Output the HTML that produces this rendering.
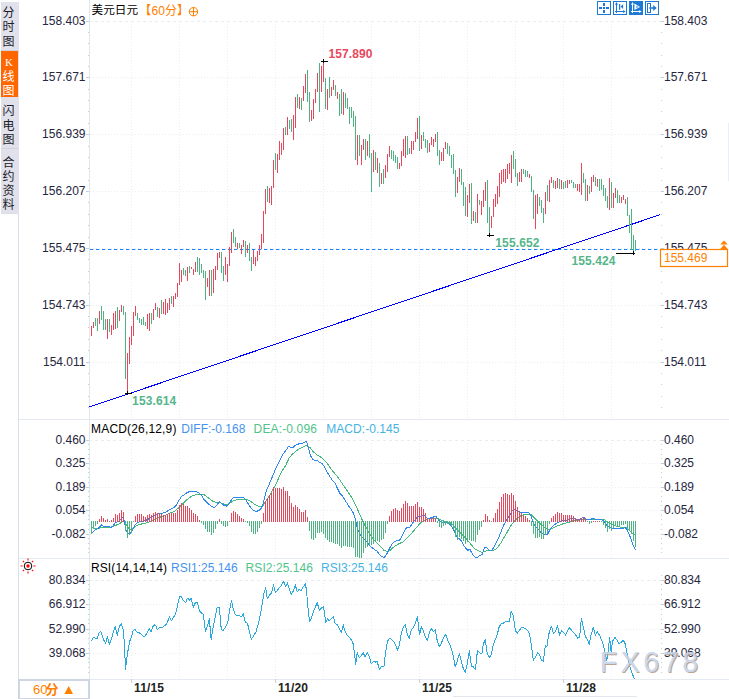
<!DOCTYPE html><html><head><meta charset="utf-8"><title>chart</title><style>
html,body{margin:0;padding:0;background:#fff;}body{width:729px;height:699px;overflow:hidden;}
svg{display:block;font-family:"Liberation Sans",sans-serif;font-size:12px;}
.l{fill:#26263e}.b{font-weight:bold;letter-spacing:0.12px}
.c{font-family:"Liberation Sans","Noto Sans CJK SC",sans-serif}
</style></head><body>
<svg width="729" height="699" viewBox="0 0 729 699">
<rect width="729" height="699" fill="#fff"/>
<g shape-rendering="crispEdges">
<rect x="1" y="2" width="18" height="211" fill="#e0e1eb"/>
<rect x="1" y="51" width="17" height="46" fill="#ff6600"/>
<rect x="1" y="50" width="17" height="1" fill="#cfd3de"/>
<rect x="1" y="148" width="17" height="1" fill="#cfd3de"/>
<rect x="18" y="213" width="1" height="486" fill="#d8dfe8"/><rect x="1" y="213" width="18" height="1" fill="#d8dfe8"/>
<rect x="89" y="0" width="1" height="679" fill="#e0e8ef"/>
<rect x="19" y="419" width="710" height="1" fill="#e4eaf0"/>
<rect x="19" y="558" width="710" height="1" fill="#e4eaf0"/>
<rect x="19" y="679" width="710" height="1" fill="#e4eaf0"/>
<rect x="18" y="679" width="72" height="2" fill="#cfd6e1"/><rect x="18" y="679" width="2" height="20" fill="#cfd6e1"/><rect x="88" y="679" width="2" height="20" fill="#cfd6e1"/><rect x="18" y="698" width="72" height="1" fill="#cfd6e1"/>
<rect x="453" y="696" width="184" height="1" fill="#e3e7ee"/>
<rect x="728" y="123" width="1" height="58" fill="#eceef6"/>
</g>
<g shape-rendering="crispEdges" stroke="#e8edf2" stroke-width="1" fill="none">
<path d="M89 21.5H661" stroke-dasharray="3 3"/>
<path d="M90 77.5H661" stroke-dasharray="1 2"/>
<path d="M90 134.5H661" stroke-dasharray="1 2"/>
<path d="M90 191.5H661" stroke-dasharray="1 2"/>
<path d="M90 248.5H661" stroke-dasharray="1 2"/>
<path d="M90 305.5H661" stroke-dasharray="1 2"/>
<path d="M90 362.5H661" stroke-dasharray="1 2"/>
<path d="M89 440.5H661" stroke-dasharray="3 3"/>
<path d="M90 463.5H661" stroke-dasharray="1 2"/>
<path d="M90 487.5H661" stroke-dasharray="1 2"/>
<path d="M90 510.5H661" stroke-dasharray="1 2"/>
<path d="M90 534.5H661" stroke-dasharray="1 2"/>
<path d="M89 580.5H661" stroke-dasharray="3 3"/>
<path d="M90 604.5H661" stroke-dasharray="1 2"/>
<path d="M90 629.5H661" stroke-dasharray="1 2"/>
<path d="M90 653.5H661" stroke-dasharray="1 2"/>
<path d="M131.5 21V419M131.5 440V558M131.5 580V679" stroke-dasharray="1 2"/>
<path d="M179.5 21V419M179.5 440V558M179.5 580V679" stroke-dasharray="1 2"/>
<path d="M227.5 21V419M227.5 440V558M227.5 580V679" stroke-dasharray="1 2"/>
<path d="M275.5 21V419M275.5 440V558M275.5 580V679" stroke-dasharray="1 2"/>
<path d="M323.5 21V419M323.5 440V558M323.5 580V679" stroke-dasharray="1 2"/>
<path d="M371.5 21V419M371.5 440V558M371.5 580V679" stroke-dasharray="1 2"/>
<path d="M419.5 21V419M419.5 440V558M419.5 580V679" stroke-dasharray="1 2"/>
<path d="M467.5 21V419M467.5 440V558M467.5 580V679" stroke-dasharray="1 2"/>
<path d="M515.5 21V419M515.5 440V558M515.5 580V679" stroke-dasharray="1 2"/>
<path d="M563.5 21V419M563.5 440V558M563.5 580V679" stroke-dasharray="1 2"/>
<path d="M611.5 21V419M611.5 440V558M611.5 580V679" stroke-dasharray="1 2"/>
</g>
<g shape-rendering="crispEdges" fill="#c3ced9">
<rect x="86" y="21" width="3" height="1"/>
<rect x="661" y="21" width="3" height="1"/>
<rect x="88" y="32" width="1" height="1"/>
<rect x="661" y="32" width="1" height="1"/>
<rect x="88" y="43" width="1" height="1"/>
<rect x="661" y="43" width="1" height="1"/>
<rect x="88" y="55" width="1" height="1"/>
<rect x="661" y="55" width="1" height="1"/>
<rect x="88" y="66" width="1" height="1"/>
<rect x="661" y="66" width="1" height="1"/>
<rect x="86" y="77" width="3" height="1"/>
<rect x="661" y="77" width="3" height="1"/>
<rect x="88" y="89" width="1" height="1"/>
<rect x="661" y="89" width="1" height="1"/>
<rect x="88" y="100" width="1" height="1"/>
<rect x="661" y="100" width="1" height="1"/>
<rect x="88" y="111" width="1" height="1"/>
<rect x="661" y="111" width="1" height="1"/>
<rect x="88" y="123" width="1" height="1"/>
<rect x="661" y="123" width="1" height="1"/>
<rect x="86" y="134" width="3" height="1"/>
<rect x="661" y="134" width="3" height="1"/>
<rect x="88" y="146" width="1" height="1"/>
<rect x="661" y="146" width="1" height="1"/>
<rect x="88" y="157" width="1" height="1"/>
<rect x="661" y="157" width="1" height="1"/>
<rect x="88" y="168" width="1" height="1"/>
<rect x="661" y="168" width="1" height="1"/>
<rect x="88" y="180" width="1" height="1"/>
<rect x="661" y="180" width="1" height="1"/>
<rect x="86" y="191" width="3" height="1"/>
<rect x="661" y="191" width="3" height="1"/>
<rect x="88" y="202" width="1" height="1"/>
<rect x="661" y="202" width="1" height="1"/>
<rect x="88" y="214" width="1" height="1"/>
<rect x="661" y="214" width="1" height="1"/>
<rect x="88" y="225" width="1" height="1"/>
<rect x="661" y="225" width="1" height="1"/>
<rect x="88" y="237" width="1" height="1"/>
<rect x="661" y="237" width="1" height="1"/>
<rect x="86" y="248" width="3" height="1"/>
<rect x="661" y="248" width="3" height="1"/>
<rect x="88" y="259" width="1" height="1"/>
<rect x="661" y="259" width="1" height="1"/>
<rect x="88" y="271" width="1" height="1"/>
<rect x="661" y="271" width="1" height="1"/>
<rect x="88" y="282" width="1" height="1"/>
<rect x="661" y="282" width="1" height="1"/>
<rect x="88" y="293" width="1" height="1"/>
<rect x="661" y="293" width="1" height="1"/>
<rect x="86" y="305" width="3" height="1"/>
<rect x="661" y="305" width="3" height="1"/>
<rect x="88" y="316" width="1" height="1"/>
<rect x="661" y="316" width="1" height="1"/>
<rect x="88" y="327" width="1" height="1"/>
<rect x="661" y="327" width="1" height="1"/>
<rect x="88" y="339" width="1" height="1"/>
<rect x="661" y="339" width="1" height="1"/>
<rect x="88" y="350" width="1" height="1"/>
<rect x="661" y="350" width="1" height="1"/>
<rect x="86" y="362" width="3" height="1"/>
<rect x="661" y="362" width="3" height="1"/>
<rect x="88" y="373" width="1" height="1"/>
<rect x="661" y="373" width="1" height="1"/>
<rect x="88" y="384" width="1" height="1"/>
<rect x="661" y="384" width="1" height="1"/>
<rect x="88" y="396" width="1" height="1"/>
<rect x="661" y="396" width="1" height="1"/>
<rect x="88" y="407" width="1" height="1"/>
<rect x="661" y="407" width="1" height="1"/>
<rect x="86" y="440" width="3" height="1"/>
<rect x="661" y="440" width="3" height="1"/>
<rect x="88" y="444" width="1" height="1"/>
<rect x="661" y="444" width="1" height="1"/>
<rect x="88" y="449" width="1" height="1"/>
<rect x="661" y="449" width="1" height="1"/>
<rect x="88" y="454" width="1" height="1"/>
<rect x="661" y="454" width="1" height="1"/>
<rect x="88" y="458" width="1" height="1"/>
<rect x="661" y="458" width="1" height="1"/>
<rect x="86" y="463" width="3" height="1"/>
<rect x="661" y="463" width="3" height="1"/>
<rect x="88" y="468" width="1" height="1"/>
<rect x="661" y="468" width="1" height="1"/>
<rect x="88" y="472" width="1" height="1"/>
<rect x="661" y="472" width="1" height="1"/>
<rect x="88" y="477" width="1" height="1"/>
<rect x="661" y="477" width="1" height="1"/>
<rect x="88" y="482" width="1" height="1"/>
<rect x="661" y="482" width="1" height="1"/>
<rect x="86" y="487" width="3" height="1"/>
<rect x="661" y="487" width="3" height="1"/>
<rect x="88" y="491" width="1" height="1"/>
<rect x="661" y="491" width="1" height="1"/>
<rect x="88" y="496" width="1" height="1"/>
<rect x="661" y="496" width="1" height="1"/>
<rect x="88" y="501" width="1" height="1"/>
<rect x="661" y="501" width="1" height="1"/>
<rect x="88" y="505" width="1" height="1"/>
<rect x="661" y="505" width="1" height="1"/>
<rect x="86" y="510" width="3" height="1"/>
<rect x="661" y="510" width="3" height="1"/>
<rect x="88" y="515" width="1" height="1"/>
<rect x="661" y="515" width="1" height="1"/>
<rect x="88" y="519" width="1" height="1"/>
<rect x="661" y="519" width="1" height="1"/>
<rect x="88" y="524" width="1" height="1"/>
<rect x="661" y="524" width="1" height="1"/>
<rect x="88" y="529" width="1" height="1"/>
<rect x="661" y="529" width="1" height="1"/>
<rect x="86" y="534" width="3" height="1"/>
<rect x="661" y="534" width="3" height="1"/>
<rect x="88" y="538" width="1" height="1"/>
<rect x="661" y="538" width="1" height="1"/>
<rect x="88" y="543" width="1" height="1"/>
<rect x="661" y="543" width="1" height="1"/>
<rect x="88" y="548" width="1" height="1"/>
<rect x="661" y="548" width="1" height="1"/>
<rect x="88" y="552" width="1" height="1"/>
<rect x="661" y="552" width="1" height="1"/>
<rect x="88" y="575" width="1" height="1"/>
<rect x="661" y="575" width="1" height="1"/>
<rect x="86" y="580" width="3" height="1"/>
<rect x="661" y="580" width="3" height="1"/>
<rect x="88" y="584" width="1" height="1"/>
<rect x="661" y="584" width="1" height="1"/>
<rect x="88" y="589" width="1" height="1"/>
<rect x="661" y="589" width="1" height="1"/>
<rect x="88" y="594" width="1" height="1"/>
<rect x="661" y="594" width="1" height="1"/>
<rect x="88" y="599" width="1" height="1"/>
<rect x="661" y="599" width="1" height="1"/>
<rect x="86" y="604" width="3" height="1"/>
<rect x="661" y="604" width="3" height="1"/>
<rect x="88" y="609" width="1" height="1"/>
<rect x="661" y="609" width="1" height="1"/>
<rect x="88" y="614" width="1" height="1"/>
<rect x="661" y="614" width="1" height="1"/>
<rect x="88" y="619" width="1" height="1"/>
<rect x="661" y="619" width="1" height="1"/>
<rect x="88" y="623" width="1" height="1"/>
<rect x="661" y="623" width="1" height="1"/>
<rect x="86" y="629" width="3" height="1"/>
<rect x="661" y="629" width="3" height="1"/>
<rect x="88" y="633" width="1" height="1"/>
<rect x="661" y="633" width="1" height="1"/>
<rect x="88" y="638" width="1" height="1"/>
<rect x="661" y="638" width="1" height="1"/>
<rect x="88" y="643" width="1" height="1"/>
<rect x="661" y="643" width="1" height="1"/>
<rect x="88" y="648" width="1" height="1"/>
<rect x="661" y="648" width="1" height="1"/>
<rect x="86" y="653" width="3" height="1"/>
<rect x="661" y="653" width="3" height="1"/>
<rect x="88" y="658" width="1" height="1"/>
<rect x="661" y="658" width="1" height="1"/>
<rect x="88" y="662" width="1" height="1"/>
<rect x="661" y="662" width="1" height="1"/>
<rect x="88" y="667" width="1" height="1"/>
<rect x="661" y="667" width="1" height="1"/>
<rect x="88" y="672" width="1" height="1"/>
<rect x="661" y="672" width="1" height="1"/>
<rect x="131" y="679" width="1" height="4"/>
<rect x="275" y="679" width="1" height="4"/>
<rect x="419" y="679" width="1" height="4"/>
<rect x="563" y="679" width="1" height="4"/>
</g>
<g class="l">
<text x="85.5" y="25" text-anchor="end">158.403</text>
<text x="664" y="25">158.403</text>
<text x="85.5" y="81" text-anchor="end">157.671</text>
<text x="664" y="81">157.671</text>
<text x="85.5" y="138" text-anchor="end">156.939</text>
<text x="664" y="138">156.939</text>
<text x="85.5" y="195" text-anchor="end">156.207</text>
<text x="664" y="195">156.207</text>
<text x="85.5" y="252" text-anchor="end">155.475</text>
<text x="664" y="252">155.475</text>
<text x="85.5" y="309" text-anchor="end">154.743</text>
<text x="664" y="309">154.743</text>
<text x="85.5" y="366" text-anchor="end">154.011</text>
<text x="664" y="366">154.011</text>
<text x="85.5" y="444" text-anchor="end">0.460</text>
<text x="664" y="444">0.460</text>
<text x="85.5" y="467" text-anchor="end">0.325</text>
<text x="664" y="467">0.325</text>
<text x="85.5" y="491" text-anchor="end">0.189</text>
<text x="664" y="491">0.189</text>
<text x="85.5" y="514" text-anchor="end">0.054</text>
<text x="664" y="514">0.054</text>
<text x="85.5" y="538" text-anchor="end">-0.082</text>
<text x="664" y="538">-0.082</text>
<text x="85.5" y="584" text-anchor="end">80.834</text>
<text x="664" y="584">80.834</text>
<text x="85.5" y="608" text-anchor="end">66.912</text>
<text x="664" y="608">66.912</text>
<text x="85.5" y="633" text-anchor="end">52.990</text>
<text x="664" y="633">52.990</text>
<text x="85.5" y="657" text-anchor="end">39.068</text>
<text x="664" y="657">39.068</text>
</g>
<path d="M89.5 406.9L660 214.75" stroke="#0000ff" stroke-width="1" fill="none" shape-rendering="crispEdges"/>
<path d="M90 249.5H658" stroke="#1283ff" stroke-width="1" stroke-dasharray="3.3 2.7" fill="none"/>
<g shape-rendering="crispEdges">
<path d="M91.5 326V336M93.5 322V328M99.5 311V324M107.5 319V339M111.5 325V335M113.5 313V330M115.5 311V329M119.5 310V321M121.5 305V312M127.5 353V393M129.5 337V364M131.5 326V345M133.5 312V336M135.5 306V316M147.5 314V329M149.5 313V331M153.5 309V320M155.5 303V310M159.5 308V318M163.5 302V314M165.5 299V315M167.5 303V313M169.5 298V310M173.5 296V307M175.5 293V299M177.5 283V297M179.5 263V285M181.5 270V282M187.5 267V281M191.5 267V269M193.5 269V275M195.5 262V272M207.5 278V287M209.5 270V296M213.5 269V293M215.5 266V280M217.5 253V270M219.5 252V258M225.5 257V275M227.5 264V282M229.5 247V266M231.5 232V253M237.5 243V249M241.5 245V254M243.5 240V247M247.5 245V253M253.5 250V264M255.5 257V266M257.5 251V261M259.5 245V255M261.5 234V249M263.5 211V243M265.5 189V214M269.5 188V203M271.5 186V205M273.5 160V188M277.5 154V173M279.5 141V160M281.5 143V155M283.5 128V150M287.5 117V135M293.5 115V140M295.5 97V128M299.5 97V109M303.5 86V101M305.5 74V93M311.5 110V121M313.5 99V119M315.5 89V103M317.5 73V92M321.5 66V92M323.5 62V82M327.5 89V110M331.5 87V96M333.5 80V90M337.5 92V99M343.5 92V115M357.5 135V165M361.5 145V165M363.5 139V150M367.5 141V156M373.5 150V172M377.5 158V173M381.5 173V184M385.5 165V178M387.5 154V172M389.5 146V157M399.5 163V169M401.5 151V166M403.5 139V156M405.5 136V158M411.5 141V154M413.5 141V150M415.5 132V142M417.5 118V139M421.5 135V149M429.5 143V152M431.5 137V145M433.5 139V147M435.5 134V142M441.5 152V161M443.5 148V161M445.5 142V149M457.5 177V193M459.5 168V182M467.5 195V217M469.5 184V203M473.5 211V221M477.5 194V223M481.5 201V215M483.5 190V207M485.5 182V201M491.5 216V228M493.5 199V217M495.5 194V207M497.5 186V204M499.5 173V197M501.5 170V184M503.5 169V182M505.5 169V183M507.5 164V179M509.5 163V174M511.5 155V183M519.5 172V182M521.5 169V182M529.5 174V178M535.5 195V229M537.5 194V214M545.5 192V214M549.5 180V202M551.5 177V183M555.5 181V189M557.5 178V188M561.5 180V189M567.5 180V188M569.5 180V184M577.5 184V191M579.5 184V192M581.5 163V195M587.5 185V201M591.5 177V192M593.5 175V182M597.5 179V187M609.5 178V210M613.5 193V208M615.5 188V198M621.5 197V203M623.5 195V200M625.5 199V204" stroke="#e8475b" stroke-width="1" fill="none"/>
<path d="M95.5 318V326M97.5 318V331M101.5 306V320M103.5 311V330M105.5 319V330M109.5 319V332M117.5 307V328M123.5 306V315M125.5 312V379M137.5 313V320M139.5 318V323M141.5 319V325M143.5 317V325M145.5 322V326M151.5 313V324M157.5 307V317M161.5 300V314M171.5 296V304M183.5 268V275M185.5 270V276M189.5 266V273M197.5 257V272M199.5 258V275M201.5 264V273M203.5 270V278M205.5 271V300M211.5 270V296M221.5 252V273M223.5 266V281M233.5 229V243M235.5 237V247M239.5 243V248M245.5 241V257M249.5 243V261M251.5 257V271M267.5 186V202M275.5 153V170M285.5 127V135M289.5 120V129M291.5 119V132M297.5 94V108M301.5 98V110M307.5 70V102M309.5 92V122M319.5 63V112M325.5 78V109M329.5 77V98M335.5 85V96M339.5 94V116M341.5 89V114M345.5 93V108M347.5 98V109M349.5 107V124M351.5 107V118M353.5 111V127M355.5 116V160M359.5 135V156M365.5 139V160M369.5 134V158M371.5 153V192M375.5 152V170M379.5 163V187M383.5 169V184M391.5 150V159M393.5 151V161M395.5 155V163M397.5 157V169M407.5 136V155M409.5 148V154M419.5 116V151M423.5 132V141M425.5 139V148M427.5 140V153M437.5 132V156M439.5 150V165M447.5 143V154M449.5 146V156M451.5 155V168M453.5 154V174M455.5 170V197M461.5 169V185M463.5 182V206M465.5 187V216M471.5 183V224M475.5 212V223M479.5 200V205M487.5 180V223M489.5 207V235M513.5 151V169M515.5 159V177M517.5 173V186M523.5 169V174M525.5 170V177M527.5 171V177M531.5 176V192M533.5 190V219M539.5 197V206M541.5 200V213M543.5 208V223M547.5 185V201M553.5 180V188M559.5 179V189M563.5 182V189M565.5 181V188M571.5 180V183M573.5 182V188M575.5 184V188M583.5 173V183M585.5 179V201M589.5 186V194M595.5 177V186M599.5 179V191M601.5 179V190M603.5 185V196M605.5 188V201M607.5 196V208M611.5 182V208M617.5 190V203M619.5 195V203M627.5 197V216M629.5 215V233M631.5 209V250M633.5 235V253M635.5 240V251" stroke="#4fb283" stroke-width="1" fill="none"/>
</g>
<g shape-rendering="crispEdges" fill="#000">
<rect x="321" y="61" width="7" height="1"/><rect x="323" y="59" width="1" height="4"/>
<rect x="125" y="393" width="7" height="1"/><rect x="127" y="391" width="1" height="4"/>
<rect x="487" y="235" width="7" height="1"/><rect x="489" y="233" width="1" height="4"/>
<rect x="616" y="253" width="19" height="1"/><rect x="633" y="251" width="1" height="4"/>
</g>
<g class="b">
<text x="328.4" y="57.5" fill="#e9485c">157.890</text>
<text x="132.1" y="404.7" fill="#55b58a">153.614</text>
<text x="495.3" y="246.7" fill="#55b58a">155.652</text>
<text x="571.4" y="264.5" fill="#55b58a">155.424</text>
</g>
<rect x="660.5" y="249.5" width="67" height="17" fill="#fff" stroke="#ff7f00" stroke-width="1.2"/>
<text x="664" y="261.8" fill="#ff7f00">155.469</text>
<path d="M724 240.6L727.8 244.6H720.2ZM724 244.8L728.2 249.4H719.8Z" fill="#ff7f00"/>
<path d="M91.4 527.3L93.5 528.3L97.6 528.3L99.7 528.0L101.7 527.1L105.8 527.3L111.3 527.3L114.1 526.0L117.5 524.6L120.2 523.2L122.3 521.2L123.9 520.9L125.7 523.2L127.8 527.3L129.4 529.4L131.9 529.7L134.0 527.3L136.0 526.0L139.4 524.6L142.9 523.6L147.0 522.8L151.1 521.2L153.8 520.1L156.6 518.7L159.3 517.3L162.8 516.4L166.2 515.0L170.3 512.9L173.7 511.8L177.2 509.1L179.2 507.4L181.6 504.7L184.0 502.6L187.5 499.2L188.6 498.5L191.2 496.3L194.6 495.1L198.9 494.6L203.2 494.2L205.7 495.9L209.2 498.5L212.6 501.1L216.0 502.3L219.5 502.3L222.9 503.7L226.3 504.5L228.9 503.7L231.5 502.0L234.9 500.2L238.4 499.4L243.5 499.4L246.9 499.4L250.4 501.1L253.8 503.7L257.2 505.9L260.7 506.8L263.3 505.4L265.8 501.1L268.4 497.7L271.8 491.7L275.3 485.6L278.7 477.9L282.1 471.1L285.9 465.0L289.4 457.4L292.9 453.8L296.5 450.7L300.1 448.4L303.7 446.6L307.2 445.4L309.9 447.5L313.5 452.0L318.0 455.6L322.4 458.2L326.0 461.8L329.6 466.8L333.2 471.7L336.8 475.8L340.3 480.6L343.9 486.0L347.5 491.3L351.1 496.7L354.6 503.0L358.2 511.0L361.8 519.0L365.4 526.2L368.9 532.5L372.5 537.8L376.1 542.3L379.7 545.9L384.0 550.3L387.5 551.8L390.2 550.2L393.0 547.7L395.7 545.6L399.1 543.6L402.6 542.2L405.3 539.5L408.1 536.7L410.8 534.0L413.6 531.0L416.3 527.8L419.0 524.7L421.8 521.9L423.8 520.5L425.9 519.6L428.6 518.9L431.4 518.6L434.1 518.2L436.9 518.2L439.6 519.6L442.4 520.5L445.1 521.4L447.8 521.9L450.6 523.0L453.3 525.5L456.1 528.5L458.8 531.5L461.6 534.0L464.3 536.7L467.0 539.5L469.8 542.9L472.5 546.3L475.3 549.1L478.0 550.4L482.0 552.5L485.5 551.1L488.9 550.4L492.3 550.4L495.1 549.8L497.8 547.0L500.6 543.6L503.3 538.8L506.1 534.0L508.8 529.2L511.6 524.7L514.3 521.4L517.0 518.6L519.8 516.4L522.5 515.1L525.3 514.5L528.0 514.4L530.8 514.5L532.8 516.2L535.6 518.9L538.3 521.6L541.0 524.4L543.8 526.9L546.5 528.8L548.6 529.9L550.6 529.2L553.4 527.8L556.1 526.4L558.9 525.5L562.3 524.1L565.7 523.0L569.2 522.1L572.6 521.0L576.0 520.3L580.0 520.0L583.7 519.2L589.2 519.2L594.7 519.2L600.2 519.2L604.3 519.6L606.4 521.6L609.1 523.0L611.8 524.7L615.3 525.8L619.4 526.9L623.5 527.4L626.2 527.1L628.3 529.2L631.0 531.9L633.8 534.3L635.8 535.1" stroke="#45b97f" stroke-width="1" fill="none" stroke-linejoin="round" shape-rendering="crispEdges"/>
<path d="M91.4 533.2L93.5 531.4L95.5 529.8L97.6 528.7L99.7 526.6L101.4 525.0L103.5 526.4L105.6 526.6L108.6 526.6L111.3 527.3L113.5 525.3L115.4 522.8L117.5 521.8L119.6 520.5L121.6 518.1L123.0 517.3L123.9 519.8L125.0 525.3L126.1 530.8L127.8 532.8L129.4 533.8L131.5 532.1L133.3 528.0L135.5 524.6L137.5 522.8L139.4 521.8L142.9 521.4L145.6 520.5L148.4 519.1L151.1 517.3L153.8 515.7L156.6 514.3L159.3 513.6L162.8 513.2L165.5 512.2L168.9 510.2L171.7 508.8L174.4 507.4L177.2 504.0L179.2 499.9L181.6 496.5L184.0 494.8L187.5 492.3L188.6 492.0L191.2 491.1L194.6 491.3L198.0 492.5L201.5 495.1L204.0 499.4L206.6 502.3L209.2 504.5L211.8 506.8L214.3 507.4L216.6 505.4L219.5 501.6L221.5 503.3L223.8 505.4L226.3 506.2L228.6 504.5L230.6 501.1L232.7 498.2L234.9 497.3L237.5 497.1L243.5 497.7L246.1 500.2L248.7 504.5L251.2 508.0L253.8 510.5L256.4 511.4L259.0 510.5L261.5 508.0L263.3 502.8L265.0 495.9L266.7 489.9L270.1 482.2L273.6 473.6L277.0 465.9L280.4 459.0L283.0 453.9L285.9 450.5L288.5 446.6L290.8 447.2L292.9 447.9L294.7 445.4L297.4 444.3L300.1 443.6L302.8 443.0L304.6 442.2L305.8 441.3L307.2 443.6L308.7 449.3L310.5 455.6L312.6 459.1L314.8 460.9L316.2 460.0L318.9 461.8L321.9 463.3L324.2 466.3L326.9 471.7L329.6 476.1L332.3 480.1L335.0 483.3L337.6 488.6L340.3 494.0L343.0 496.7L345.7 501.2L348.4 505.6L351.1 509.2L353.7 513.7L355.5 519.9L357.3 528.0L360.0 534.2L363.6 538.7L367.2 542.3L369.8 545.9L373.4 548.6L377.0 551.2L380.6 555.7L384.0 557.5L386.1 555.2L387.5 552.5L389.5 548.4L391.6 544.7L393.7 542.2L395.7 541.1L397.8 540.6L399.6 540.2L401.2 537.4L403.3 533.3L405.3 529.2L406.7 527.8L408.7 527.4L410.1 527.1L412.2 523.7L414.2 521.0L416.3 518.2L418.4 516.4L420.4 516.2L422.5 515.5L424.5 515.5L425.9 517.5L428.0 518.9L430.0 518.2L432.1 517.5L434.1 516.8L435.5 516.2L436.9 517.5L438.2 519.6L440.3 521.6L443.0 522.7L445.8 522.3L447.8 523.0L449.9 524.4L452.0 526.9L454.0 530.6L456.1 535.4L458.1 538.1L460.2 539.5L462.2 542.2L464.3 546.3L466.4 549.1L468.1 550.4L469.8 549.1L471.2 551.8L473.2 555.2L476.0 557.7L478.0 557.3L480.1 555.2L482.0 554.6L484.1 548.4L485.8 547.0L487.5 548.4L489.3 550.2L491.7 550.2L493.7 547.7L495.8 543.6L497.8 539.5L499.9 534.7L501.9 529.2L504.0 524.4L506.1 521.0L508.1 517.5L510.2 514.1L512.2 510.9L514.3 509.3L516.4 510.4L518.4 511.4L521.2 512.3L524.6 512.3L528.0 512.3L529.7 513.4L531.4 516.8L532.8 521.6L534.9 525.5L536.9 527.8L539.0 529.9L541.0 532.6L543.1 534.3L545.2 534.7L547.2 534.7L548.6 532.6L550.0 529.2L552.0 526.9L554.1 525.1L556.8 523.0L559.6 521.6L562.3 521.0L565.0 520.7L567.8 519.6L570.5 518.6L573.3 518.6L576.0 519.2L580.0 519.6L581.0 518.6L583.0 517.5L585.1 518.2L587.1 519.6L590.6 519.2L593.3 518.6L596.1 519.2L599.5 519.6L602.2 520.0L604.3 521.6L606.4 525.1L608.4 526.9L610.5 527.8L613.9 528.2L618.0 528.2L622.1 528.2L625.6 527.8L627.6 531.2L630.4 537.4L633.1 545.0L635.6 549.8" stroke="#2e86f0" stroke-width="1" fill="none" stroke-linejoin="round" shape-rendering="crispEdges"/>
<g shape-rendering="crispEdges">
<path d="M99.5 519V522M101.5 516V522M103.5 518V522M105.5 520V522M107.5 519V522M111.5 520V522M113.5 518V522M115.5 514V522M117.5 515V522M119.5 513V522M121.5 510V522M123.5 512V522M135.5 516V522M137.5 514V522M139.5 514V522M141.5 514V522M143.5 516V522M145.5 517V522M147.5 515V522M149.5 514V522M151.5 515V522M153.5 513V522M155.5 512V522M157.5 513V522M159.5 513V522M161.5 514V522M163.5 515V522M165.5 515V522M167.5 514V522M169.5 513V522M171.5 513V522M173.5 513V522M175.5 513V522M177.5 510V522M179.5 505V522M181.5 503V522M183.5 504V522M185.5 506V522M187.5 506V522M189.5 508V522M191.5 510V522M193.5 513V522M195.5 514V522M197.5 516V522M199.5 520V522M219.5 519V522M231.5 513V522M233.5 511V522M235.5 512V522M237.5 514V522M239.5 516V522M241.5 518V522M243.5 519V522M263.5 513V522M265.5 501V522M267.5 498V522M269.5 495V522M271.5 493V522M273.5 487V522M275.5 488V522M277.5 488V522M279.5 488V522M281.5 489V522M283.5 487V522M285.5 491V522M287.5 491V522M289.5 496V522M291.5 503V522M293.5 507V522M295.5 505V522M297.5 507V522M299.5 509V522M301.5 512V522M303.5 512V522M305.5 510V522M307.5 517V522M389.5 516V522M391.5 511V522M393.5 509V522M395.5 508V522M397.5 510V522M399.5 511V522M401.5 508V522M403.5 504V522M405.5 501V522M407.5 503V522M409.5 506V522M411.5 506V522M413.5 506V522M415.5 504V522M417.5 502V522M419.5 507V522M421.5 507V522M423.5 509V522M425.5 513V522M427.5 518V522M429.5 519V522M431.5 518V522M433.5 518V522M435.5 518V522M483.5 520V522M485.5 514V522M487.5 516V522M489.5 520V522M493.5 518V522M495.5 513V522M497.5 509V522M499.5 502V522M501.5 497V522M503.5 494V522M505.5 493V522M507.5 494V522M509.5 495V522M511.5 493V522M513.5 495V522M515.5 501V522M517.5 507V522M519.5 511V522M521.5 513V522M523.5 515V522M525.5 516V522M527.5 518V522M529.5 520V522M551.5 518V522M553.5 516V522M555.5 514V522M557.5 512V522M559.5 513V522M561.5 513V522M563.5 515V522M565.5 515V522M567.5 515V522M569.5 515V522M571.5 515V522M573.5 516V522M575.5 518V522M577.5 519V522M579.5 519V522M581.5 518V522M583.5 517V522M585.5 518V522M593.5 521V522M595.5 521V522M597.5 521V522M599.5 521V522" stroke="#e8475b" stroke-width="1" fill="none"/>
<path d="M91.5 521V534M93.5 521V529M95.5 521V526M97.5 521V524M109.5 521V522M125.5 521V531M127.5 521V538M129.5 521V535M131.5 521V533M133.5 521V522M201.5 521V523M203.5 521V525M205.5 521V529M207.5 521V532M209.5 521V532M211.5 521V535M213.5 521V533M215.5 521V529M217.5 521V524M221.5 521V524M223.5 521V526M225.5 521V527M227.5 521V526M229.5 521V522M245.5 521V522M247.5 521V523M249.5 521V526M251.5 521V532M253.5 521V534M255.5 521V534M257.5 521V532M259.5 521V528M261.5 521V524M309.5 521V531M311.5 521V539M313.5 521V540M315.5 521V538M317.5 521V533M319.5 521V533M321.5 521V532M323.5 521V534M325.5 521V538M327.5 521V540M329.5 521V542M331.5 521V542M333.5 521V543M335.5 521V544M337.5 521V544M339.5 521V546M341.5 521V548M343.5 521V546M345.5 521V546M347.5 521V547M349.5 521V547M351.5 521V547M353.5 521V548M355.5 521V557M357.5 521V557M359.5 521V558M361.5 521V558M363.5 521V553M365.5 521V548M367.5 521V547M369.5 521V545M371.5 521V545M373.5 521V544M375.5 521V541M377.5 521V541M379.5 521V542M381.5 521V540M383.5 521V539M385.5 521V533M387.5 521V524M437.5 521V523M439.5 521V527M441.5 521V528M443.5 521V526M445.5 521V525M447.5 521V524M449.5 521V524M451.5 521V526M453.5 521V529M455.5 521V537M457.5 521V540M459.5 521V537M461.5 521V539M463.5 521V541M465.5 521V544M467.5 521V542M469.5 521V540M471.5 521V541M473.5 521V541M475.5 521V542M477.5 521V535M479.5 521V530M481.5 521V527M491.5 521V522M531.5 521V526M533.5 521V534M535.5 521V538M537.5 521V538M539.5 521V537M541.5 521V539M543.5 521V539M545.5 521V535M547.5 521V533M549.5 521V524M587.5 521V522M589.5 521V524M591.5 521V523M601.5 521V522M603.5 521V525M605.5 521V528M607.5 521V532M609.5 521V529M611.5 521V531M613.5 521V528M615.5 521V526M617.5 521V526M619.5 521V526M621.5 521V525M623.5 521V525M625.5 521V524M627.5 521V530M629.5 521V531M631.5 521V534M633.5 521V541M635.5 521V547" stroke="#4fb283" stroke-width="1" fill="none"/>
</g>
<path d="M91.3 641.1L93.3 637.3L95.5 638.1L97.3 638.1L99.3 632.1L100.8 631.8L102.3 635.8L103.8 640.3L105.7 643.3L107.5 636.6L109.5 644.4L111.3 639.3L113.2 632.1L115.3 626.8L117.3 635.1L119.2 626.8L121.3 623.4L122.9 628.3L124.1 639.6L125.6 669.6L126.5 659.9L127.8 651.6L129.8 641.1L131.6 636.3L133.1 630.6L134.9 629.1L136.8 631.8L139.1 632.8L141.3 634.3L143.6 636.3L145.4 635.8L147.3 632.1L149.3 628.8L151.1 632.1L152.9 626.8L154.8 624.3L156.3 626.8L157.4 629.8L159.8 627.3L161.6 627.9L163.9 626.1L165.8 624.9L167.6 621.6L169.6 616.8L171.4 620.8L173.3 617.8L175.1 614.8L176.9 608.8L178.4 601.3L179.6 596.5L181.4 596.8L183.4 600.5L185.6 602.8L187.1 599.0L188.0 598.3L189.8 600.2L191.3 598.3L193.2 607.3L195.3 602.8L197.3 602.0L199.5 611.1L201.8 613.3L203.3 614.4L205.5 631.3L207.5 626.1L209.3 618.6L211.2 639.6L213.3 626.1L215.3 617.1L217.2 607.3L219.3 607.3L221.3 629.8L223.3 630.3L225.4 627.3L227.8 622.3L229.6 610.3L231.4 600.5L233.3 608.8L235.3 614.8L237.1 615.3L239.3 615.6L241.6 616.8L243.4 613.8L245.3 622.3L246.8 622.8L248.3 626.1L249.8 633.6L251.3 639.3L253.6 635.8L255.9 632.1L258.1 624.6L260.4 614.8L262.6 602.0L263.8 593.8L265.6 587.8L267.4 599.0L269.4 595.3L271.6 593.0L273.6 584.8L275.4 593.0L277.6 590.0L279.9 587.0L281.8 584.8L283.6 581.3L285.1 585.5L286.0 586.3L287.3 582.8L289.3 589.3L291.2 594.2L293.3 591.2L295.3 584.8L297.2 591.8L299.3 589.3L301.3 590.8L303.2 587.0L305.3 583.7L306.5 590.0L307.7 605.0L309.5 621.3L311.3 618.6L313.3 611.8L315.2 607.3L317.3 602.8L319.3 610.3L321.3 608.3L323.4 606.5L324.6 614.1L325.8 622.3L327.6 618.6L329.4 620.8L331.3 618.6L333.3 616.8L335.1 623.1L337.3 624.9L339.6 628.8L341.4 632.8L343.3 624.6L344.8 630.9L347.1 634.8L349.3 637.3L351.6 640.3L353.4 644.4L354.6 654.6L355.7 664.4L357.2 652.4L359.1 657.6L361.4 655.4L363.3 652.8L365.1 656.9L367.4 652.8L369.3 656.9L371.4 663.9L373.4 661.8L375.3 662.1L377.1 660.9L379.4 669.9L381.3 666.3L383.1 665.9L384.0 666.6L385.3 654.6L387.3 641.8L389.2 638.4L391.3 639.3L393.7 641.8L395.5 644.9L397.3 650.1L399.3 645.6L401.2 634.3L403.3 626.8L405.3 624.6L407.2 634.3L409.3 638.1L411.3 629.8L413.2 627.9L415.3 623.1L417.5 616.8L418.4 626.1L419.6 634.8L421.4 626.8L423.3 630.6L425.6 637.3L427.4 640.3L429.3 632.8L431.3 628.3L433.4 631.8L435.3 629.8L437.3 641.1L439.4 646.4L441.3 643.3L443.6 637.3L445.8 634.3L447.8 640.3L449.6 644.1L451.4 648.6L453.4 656.9L455.2 666.9L457.1 661.4L459.4 653.4L461.3 661.4L463.4 668.9L465.4 672.3L467.3 663.6L469.4 650.9L471.4 666.3L473.3 666.6L475.4 669.9L477.4 650.9L479.3 652.4L481.1 653.9L482.0 653.1L483.3 644.1L485.3 639.9L487.2 653.1L489.3 657.9L491.3 654.3L493.2 644.9L495.3 639.6L497.3 634.3L499.2 626.8L501.3 623.4L503.3 623.1L505.2 621.6L507.3 621.3L509.3 621.3L511.2 611.4L513.3 615.6L515.3 630.6L517.3 633.3L519.4 630.3L521.8 627.3L523.9 627.9L525.8 629.1L527.8 630.6L529.6 634.3L531.4 645.6L533.3 660.3L535.6 656.9L537.8 652.4L539.8 655.4L541.6 660.3L543.4 661.4L545.3 645.3L546.8 647.1L548.8 634.3L550.6 627.3L551.8 626.8L553.3 633.3L555.4 631.8L557.5 625.8L559.6 635.1L561.6 630.6L563.7 632.4L565.6 635.1L567.9 630.3L569.7 627.3L571.6 630.3L573.9 632.8L575.8 635.1L577.6 638.1L579.1 637.3L580.0 632.8L581.3 618.6L583.3 626.8L585.2 636.3L587.3 639.6L589.3 644.1L591.2 634.3L593.3 627.6L595.3 635.1L597.2 631.8L599.8 635.8L602.0 641.1L604.3 648.6L605.8 656.1L606.8 660.6L608.3 650.1L609.6 637.3L611.1 651.6L612.6 641.1L614.8 637.3L616.8 639.9L618.9 644.1L620.8 642.6L623.4 640.3L625.3 644.1L626.8 651.6L628.3 659.1L629.8 666.6L631.8 672.6L634.3 678.7" stroke="#2ba8dc" stroke-width="1" fill="none" stroke-linejoin="round" shape-rendering="crispEdges"/>
<text x="91.1" y="433.2" fill="#000" style="letter-spacing:0.16px">MACD(26,12,9)</text>
<text x="181.3" y="433.2" fill="#4592ee">DIFF:-0.168</text>
<text x="253.6" y="433.2" fill="#4fc38a" style="letter-spacing:0.14px">DEA:-0.096</text>
<text x="326.2" y="433.2" style="letter-spacing:0.06px" fill="#45b2e2">MACD:-0.145</text>
<text x="91" y="572.2" fill="#000" style="letter-spacing:0.1px">RSI(14,14,14)</text>
<text x="171" y="572.2" fill="#4592ee">RSI1:25.146</text>
<text x="245.6" y="572.2" style="letter-spacing:0.06px" fill="#4fc38a">RSI2:25.146</text>
<text x="321.1" y="572.2" fill="#45b2e2">RSI3:25.146</text>
<g class="b" fill="#222">
<text x="134" y="692">11/15</text>
<text x="278" y="692">11/20</text>
<text x="422" y="692">11/25</text>
<text x="566" y="692">11/28</text>
</g>
<text class="c" x="91.6" y="14.4" fill="#000" style="font-size:11.6px">美元日元</text>
<text class="c" x="151.3" y="14.6" fill="#ff7f00" text-anchor="end">【</text>
<text x="151.5" y="14.6" fill="#ff7f00">60</text>
<text class="c" x="164.9" y="14.6" fill="#ff7f00">分】</text>
<g stroke="#ff7f00" stroke-width="1" fill="none"><circle cx="193.5" cy="11.7" r="4.2"/><path d="M189.3 11.7H197.7M193.5 7.5V15.9"/></g>
<g class="c" fill="#1c1c28" text-anchor="middle">
<text x="8.5" y="16.5">分</text>
<text x="8.5" y="30.5">时</text>
<text x="8.5" y="45.5">图</text>
</g>
<text x="9" y="65.5" fill="#fff" text-anchor="middle" style="font-family:'Liberation Serif',serif;font-size:11px">K</text>
<g class="c" fill="#fff" text-anchor="middle">
<text x="8.5" y="80.5">线</text>
<text x="8.5" y="94.5">图</text>
</g>
<g class="c" fill="#1c1c28" text-anchor="middle">
<text x="8.5" y="114.5">闪</text>
<text x="8.5" y="129.5">电</text>
<text x="8.5" y="143.5">图</text>
</g>
<g class="c" fill="#1c1c28" text-anchor="middle">
<text x="8.5" y="166.5">合</text>
<text x="8.5" y="180.5">约</text>
<text x="8.5" y="194.5">资</text>
<text x="8.5" y="208.5">料</text>
</g>
<text x="33.1" y="694.1" fill="#ff7f00" style="font-size:13px">60</text>
<text class="c" x="45.6" y="694.3" fill="#ff7f00" style="font-size:13px;font-weight:bold">分</text>
<path d="M64.4 694L68.7 686L73 694Z" fill="#ff7f00"/>
<g><circle cx="28" cy="566" r="3.8" fill="none" stroke="#000" stroke-width="1"/><circle cx="28" cy="566" r="1.7" fill="#f00"/>
<path d="M33.5 566.0L35.4 566.0M31.9 569.9L33.2 571.2M28.0 571.5L28.0 573.4M24.1 569.9L22.8 571.2M22.5 566.0L20.6 566.0M24.1 562.1L22.8 560.8M28.0 560.5L28.0 558.6M31.9 562.1L33.2 560.8" stroke="#f00" stroke-width="1.1" fill="none"/></g>
<g shape-rendering="crispEdges">
<rect x="597.5" y="1.5" width="13" height="13" fill="#fff" stroke="#1c79d6" stroke-width="1"/>
<rect x="613.5" y="1.5" width="13" height="13" fill="#fff" stroke="#1c79d6" stroke-width="1"/>
<rect x="629.5" y="1.5" width="13" height="13" fill="#1c79d6" stroke="#1c79d6" stroke-width="1"/>
<rect x="645.5" y="1.5" width="13" height="13" fill="#fff" stroke="#1c79d6" stroke-width="1"/>
<g fill="#1c79d6"><rect x="603" y="7" width="2" height="2"/><rect x="599" y="7" width="3" height="2"/><rect x="606" y="7" width="3" height="2"/><rect x="603" y="3" width="2" height="3"/><rect x="603" y="10" width="2" height="3"/></g>
</g>
<g fill="#1c79d6" stroke="none"><rect x="616" y="3" width="1" height="10" shape-rendering="crispEdges"/><path d="M616.5 2.1l1.5 2.6h-3z"/><rect x="615" y="11" width="10" height="1" shape-rendering="crispEdges"/><path d="M625.7 11.5l-2.6 -1.5v3z"/></g>
<g fill="#1c79d6"><rect x="619" y="4" width="1.2" height="5.8"/><path d="M620.5 6.6L623.1 4.2V9Z"/></g>
<g fill="#fff" stroke="none"><rect x="632" y="3" width="1" height="10" shape-rendering="crispEdges"/><path d="M632.5 2.1l1.5 2.6h-3z"/><rect x="631" y="11" width="10" height="1" shape-rendering="crispEdges"/><path d="M641.7 11.5l-2.6 -1.5v3z"/></g>
<path d="M634.4 3.6L640.1 6.9L634.4 10.1Z" fill="#fff"/><path d="M636.2 5.4L638.6 6.9L636.2 8.4Z" fill="#6aaeea"/>
<rect x="647.5" y="3.5" width="3" height="9" fill="none" stroke="#1c79d6" stroke-width="1"/>
<path d="M649.3 7.3H653.2V5.1L656.7 8L653.2 10.9V8.7H649.3Z" fill="#1c79d6"/>
<g style="font-size:28.6px;letter-spacing:3.55px" opacity="0.9"><text x="600.6" y="673.2" fill="#b59b85">FX678</text><text x="599.7" y="672.3" fill="#c6d4ea">FX678</text></g>
</svg></body></html>
